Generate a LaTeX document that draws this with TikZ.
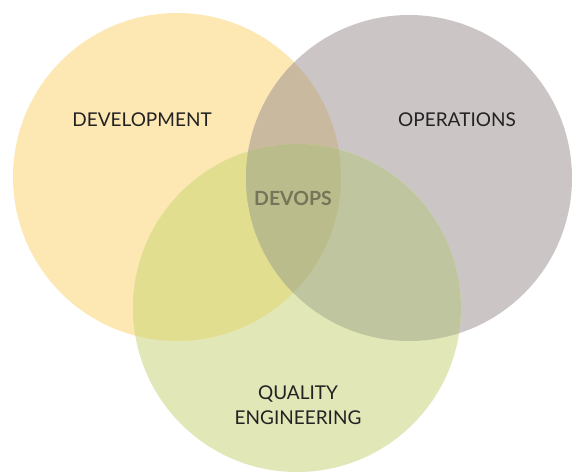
\documentclass[tikz,border=0pt]{standalone}
\usepackage{fontspec}
\setmainfont{Lato}
\definecolor{cdev}{HTML}{FDE8B4}
\definecolor{cops}{HTML}{CCC5C6}
\definecolor{cqe}{HTML}{E2E7B8}
\definecolor{cdo}{HTML}{C9B99E}
\definecolor{cdq}{HTML}{E2DE90}
\definecolor{coq}{HTML}{BFC59E}
\definecolor{call}{HTML}{BBBC8B}
\definecolor{ctxt}{HTML}{222222}
\definecolor{cdevops}{HTML}{75755A}
\begin{document}
\begin{tikzpicture}[x=1pt,y=-1pt,
  lbl/.style={font=\fontsize{19}{21}\selectfont, text=ctxt, align=center, inner sep=0pt}]
\useasboundingbox (0,0) rectangle (576,474);
\fill[white] (0,0) rectangle (576,474);
\def\devc{(177,177) circle[radius=164]}
\def\opsc{(409,178) circle[radius=163]}
\def\qec{(297,308) circle[radius=164]}
\fill[cdev] \devc;
\fill[cops] \opsc;
\fill[cqe] \qec;
\begin{scope}\clip \devc; \fill[cdo] \opsc; \end{scope}
\begin{scope}\clip \devc; \fill[cdq] \qec; \end{scope}
\begin{scope}\clip \opsc; \fill[coq] \qec; \end{scope}
\begin{scope}\clip \devc; \clip \opsc; \fill[call] \qec; \end{scope}
\node[lbl] (dev) at (142,120) {DEVELOPMENT};
\node[lbl] (ops) at (457,120) {OPERATIONS};
\node[lbl, text=cdevops, font=\fontsize{19.5}{21}\selectfont\bfseries] (devops) at (293,198) {DEVOPS};
\node[lbl, font=\fontsize{19}{24.5}\selectfont] (qe) at (298,405) {QUALITY\\ENGINEERING};
\end{tikzpicture}
\end{document}
